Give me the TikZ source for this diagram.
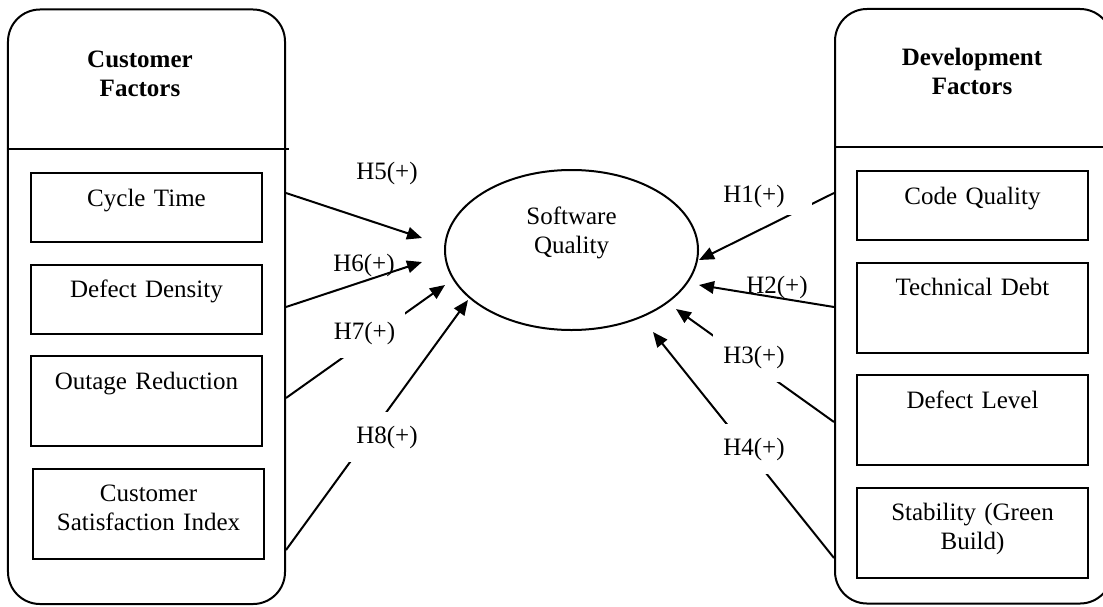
\documentclass[tikz,border=0pt]{standalone}
\usepackage{fontspec}
\setmainfont{Liberation Serif}
\usetikzlibrary{positioning,shapes.geometric,arrows.meta}
\begin{document}
\begin{tikzpicture}
	[x=0.4pt, y=-0.4pt,
	panel/.style	={draw, line width=0.8pt, rounded corners=12.8pt, minimum width=110.8pt, minimum height=237.8pt},
	head/.style		={font=\bfseries\fontsize{10}{11.6}\selectfont, text width=100pt, align=center, anchor=base},
	factor/.style	={draw, line width=0.8pt, font=\fontsize{10}{11.4}\selectfont, text width=92.4pt, align=center, inner sep=0pt, anchor=north, text height=13.2pt, text depth=#1},
	factor/.default	=14.4pt,
	construct/.style={draw, ellipse, line width=0.8pt, font=\fontsize{10}{11.6}\selectfont, minimum width=101.2pt, minimum height=64pt, inner sep=0pt, text width=60pt, align=center, text height=7pt, text depth=27.8pt},
	hyp/.style		={line width=0.8pt, -{Triangle[length=6pt, width=5pt]}},
	hlabel/.style	={inner sep=0pt, text height=7.5pt, text depth=2.5pt},
	hmask/.style	={hlabel, fill=white, inner xsep=4pt, inner ysep=5pt}]
	\useasboundingbox (0,0) rectangle (1103,606);

	% customer side
	\node[panel] (cust) at (146.5,306.75) {};
	\draw[line width=0.8pt] (cust.west |- 0,149) -- ([xshift=1pt]cust.east |- 0,149);
	\node[head] (custhead) at (140,68) {Customer\\Factors};
	\node[factor] 								(ct)	at (146.5,172) {Cycle Time};
	\node[factor, below=8.2pt of ct] 			(dd)	{Defect Density};
	\node[factor=22.8pt, below=8.2pt of dd] 	(or)	{Outage Reduction};
	\node[factor=22.8pt, below=8.2pt of or, xshift=0.8pt] (csi) {Customer\\Satisfaction Index};

	% development side
	\node[panel] (dev) at (973.5,306.25) {};
	\draw[line width=0.8pt] (dev.west |- 0,147) -- (dev.east |- 0,147);
	\node[head] (devhead) at (972,66) {Development\\Factors};
	\node[factor] 								(cq)	at (972.5,170) {Code Quality};
	\node[factor=22.8pt, below=8.2pt of cq] 	(td)	{Technical Debt};
	\node[factor=22.8pt, below=8.2pt of td] 	(dl)	{Defect Level};
	\node[factor=22.8pt, below=8.2pt of dl] 	(st)	{Stability (Green\\Build)};

	\node[construct] (sq) at (571.5,250) {Software\\Quality};

	\coordinate (t5) at (422,238);
	\coordinate (t6) at (422,262);
	\coordinate (t7) at (445,285);
	\coordinate (t8) at (468,300);
	\coordinate (t1) at (699,260);
	\coordinate (t2) at (699,285);
	\coordinate (t3) at (676,309);
	\coordinate (t4) at (653,332);

	\draw[hyp] (cust.east |- 0,193) -- (t5);
	\draw[hyp] (cust.east |- 0,307) -- (t6);
	\draw[hyp] (cust.east |- 0,398) -- (t7);
	\draw[hyp] (cust.east |- 0,550) -- (t8);
	\draw[hyp] (dev.west |- 0,193) -- (t1);
	\draw[hyp] (dev.west |- 0,307) -- (t2);
	\draw[hyp] (dev.west |- 0,422) -- (t3);
	\draw[hyp] (dev.west |- 0,558) -- (t4);

	\node[hlabel] 	(l5) at (387,173)	{H5(+)};
	\node[hlabel] 	(l6) at (364,265)	{H6(+)};
	\node[hmask] 	(l7) at (364.5,333)	{H7(+)};
	\node[hmask] 	(l8) at (387,437)	{H8(+)};
	\node[hmask, inner xsep=11pt, inner ysep=2.6pt] (l1) at (754,196) {H1(+)};
	\node[hlabel] 	(l2) at (777,287)	{H2(+)};
	\node[hmask] 	(l3) at (754,357)	{H3(+)};
	\node[hmask] 	(l4) at (754,449)	{H4(+)};
\end{tikzpicture}
\end{document}
